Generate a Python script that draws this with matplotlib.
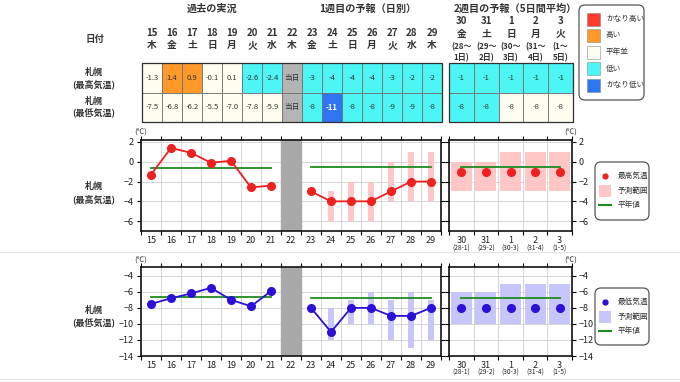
import matplotlib
matplotlib.use('Agg')
import matplotlib.pyplot as plt
import numpy as np
from matplotlib.patches import Rectangle, FancyBboxPatch

plt.rcParams['font.family'] = ['Noto Sans CJK JP', 'DejaVu Sans']

# ---------------- data ----------------
days1 = [15, 16, 17, 18, 19, 20, 21, 22, 23, 24, 25, 26, 27, 28, 29]
weekdays1 = ['木', '金', '土', '日', '月', '火', '水', '木', '金', '土', '日', '月', '火', '水', '木']
high_table = ['-1.3', '1.4', '0.9', '-0.1', '0.1', '-2.6', '-2.4', '当日', '-3', '-4', '-4', '-4', '-3', '-2', '-2']
high_class = ['N', 'H', 'H', 'N', 'N', 'L', 'L', 'T', 'L', 'L', 'L', 'L', 'L', 'L', 'L']
low_table = ['-7.5', '-6.8', '-6.2', '-5.5', '-7.0', '-7.8', '-5.9', '当日', '-8', '-11', '-8', '-8', '-9', '-9', '-8']
low_class = ['N', 'N', 'N', 'N', 'N', 'N', 'N', 'T', 'L', 'VL', 'L', 'L', 'L', 'L', 'L']

days2 = ['30', '31', '1', '2', '3']
weekdays2 = ['金', '土', '日', '月', '火']
periods2_a = ['(28〜', '(29〜', '(30〜', '(31〜', '(1〜']
periods2_b = ['1日)', '2日)', '3日)', '4日)', '5日)']
periods2_short = ['(28-1)', '(29-2)', '(30-3)', '(31-4)', '(1-5)']
w2_high_table = ['-1', '-1', '-1', '-1', '-1']
w2_high_class = ['L', 'L', 'L', 'L', 'L']
w2_low_table = ['-8', '-8', '-8', '-8', '-8']
w2_low_class = ['L', 'L', 'N', 'N', 'N']

past_days = [15, 16, 17, 18, 19, 20, 21]
past_high = [-1.3, 1.4, 0.9, -0.1, 0.1, -2.6, -2.4]
past_low = [-7.5, -6.8, -6.2, -5.5, -7.0, -7.8, -5.9]
normal_high_past = -0.6
normal_low_past = -6.7

fc_days = [23, 24, 25, 26, 27, 28, 29]
fc_high = [-3, -4, -4, -4, -3, -2, -2]
fc_high_lo = [np.nan, -6, -6, -6, -4, -4, -4]
fc_high_hi = [np.nan, -3, -2, -2, 0, 1, 1]
fc_low = [-8, -11, -8, -8, -9, -9, -8]
fc_low_lo = [np.nan, -12, -10, -10, -12, -13, -12]
fc_low_hi = [np.nan, -8, -7, -6, -7, -6, -7]
normal_high_fc = -0.5
normal_low_fc = -6.75

w2_high = [-1, -1, -1, -1, -1]
w2_high_lo = [-3, -3, -3, -3, -3]
w2_high_hi = [0, 0, 1, 1, 1]
w2_low = [-8, -8, -8, -8, -8]
w2_low_lo = [-10, -10, -10, -10, -10]
w2_low_hi = [-6, -6, -5, -5, -5]
normal_high_w2 = -0.5
normal_low_w2 = -6.8

class_colors = {'VH': '#ff3a2e', 'H': '#ff9a2a', 'N': '#fdfdf0', 'L': '#4df5f5', 'VL': '#2f74f0', 'T': '#b4b4b4'}
legend_classes = [('VH', 'かなり高い'), ('H', '高い'), ('N', '平年並'), ('L', '低い'), ('VL', 'かなり低い')]

RED = '#ee2020'
BLUE = '#2a10d8'
GREEN = '#1e8c1e'
PINK = '#ffc6c6'
LAV = '#c6c6fa'

# ---------------- figure ----------------
W, H = 680, 382
fig = plt.figure(figsize=(6.8, 3.82), dpi=100)


def px_axes(x0, y0, x1, y1, **kw):
    return fig.add_axes([x0 / W, 1 - y1 / H, (x1 - x0) / W, (y1 - y0) / H], **kw)


# ---------------- tables ----------------
def draw_table(ax, rows, classes):
    n = len(rows[0])
    ax.set_xlim(-0.5, n - 0.5)
    ax.set_ylim(2, 0)
    ax.axis('off')
    for r in range(2):
        for i in range(n):
            c = classes[r][i]
            ax.add_patch(Rectangle((i - 0.5, r), 1, 1, facecolor=class_colors[c],
                                   edgecolor='#707070', lw=0.6, clip_on=False))
            col = 'white' if c == 'VL' else '#333333'
            fw = 'bold' if c == 'VL' else 'normal'
            ax.text(i, r + 0.5, rows[r][i], ha='center', va='center', fontsize=5.5,
                    color=col, fontweight=fw)
    ax.add_patch(Rectangle((-0.5, 0), n, 2, fill=False, edgecolor='#303030', lw=0.9, clip_on=False))


ax_t1 = px_axes(142, 63, 442, 122)
draw_table(ax_t1, [high_table, low_table], [high_class, low_class])
for i, (d, w) in enumerate(zip(days1, weekdays1)):
    ax_t1.text(i, -1.03, str(d), ha='center', va='center', fontsize=7, fontweight='bold', color='#333333')
    ax_t1.text(i, -0.6, w, ha='center', va='center', fontsize=7, fontweight='bold', color='#333333')

ax_t2 = px_axes(449, 63, 573, 122)
draw_table(ax_t2, [w2_high_table, w2_low_table], [w2_high_class, w2_low_class])
for i in range(5):
    ax_t2.text(i, -1.42, days2[i], ha='center', va='center', fontsize=7, fontweight='bold', color='#333333')
    ax_t2.text(i, -1.0, weekdays2[i], ha='center', va='center', fontsize=7, fontweight='bold', color='#333333')
    ax_t2.text(i, -0.56, periods2_a[i], ha='center', va='center', fontsize=5.8, fontweight='bold', color='#333333')
    ax_t2.text(i, -0.18, periods2_b[i], ha='center', va='center', fontsize=5.8, fontweight='bold', color='#333333')


# ---------------- charts ----------------
def style_axes(ax, n_start, n_end, yticks, ylim, side, labels):
    ax.set_xlim(n_start - 0.5, n_end + 0.5)
    ax.set_ylim(*ylim)
    bounds = np.arange(n_start - 0.5, n_end + 1.0, 1.0)
    centers = np.arange(n_start, n_end + 1)
    ax.set_xticks(bounds)
    ax.set_xticklabels([])
    ax.set_xticks(centers, minor=True)
    ax.set_xticklabels(labels, minor=True)
    ax.tick_params(axis='x', which='major', direction='out', length=3, width=0.8, top=True, bottom=True)
    ax.tick_params(axis='x', which='minor', length=0, pad=3.5, labelsize=6.5, labelcolor='#222222')
    ax.set_yticks(yticks)
    ax.tick_params(axis='y', direction='out', length=3, width=0.8, left=True, right=True,
                   labelleft=(side == 'left'), labelright=(side == 'right'), labelsize=6.5,
                   labelcolor='#222222', pad=2)
    ax.grid(axis='x', which='major', color='#d0d0d0', lw=0.6)
    ax.grid(axis='y', which='major', color='#d0d0d0', lw=0.6)
    ax.set_axisbelow(True)
    for s in ax.spines.values():
        s.set_linewidth(1.2)
        s.set_color('#111111')


def chart_week1(ax, past, normal_past, fc, fc_lo, fc_hi, normal_fc, color, barcolor, yticks, ylim):
    style_axes(ax, 15, 29, yticks, ylim, 'left', [str(d) for d in days1])
    ax.axvspan(21.5, 22.5, color='#a8a8a8', zorder=1.5)
    lo = np.array(fc_lo, dtype=float)
    hi = np.array(fc_hi, dtype=float)
    ax.bar(fc_days, hi - lo, bottom=lo, width=0.27, color=barcolor, zorder=2)
    ax.plot([past_days[0], past_days[-1]], [normal_past, normal_past], color=GREEN, lw=1.3, zorder=3)
    ax.plot([fc_days[0], fc_days[-1]], [normal_fc, normal_fc], color=GREEN, lw=1.3, zorder=3)
    ax.plot(past_days, past, color=color, lw=1.3, marker='o', ms=5.5, zorder=4)
    ax.plot(fc_days, fc, color=color, lw=1.3, marker='o', ms=5.5, zorder=4)


def chart_week2(ax, vals, lo, hi, normal, color, barcolor, yticks, ylim):
    style_axes(ax, 0, 4, yticks, ylim, 'right', days2)
    x = np.arange(5)
    lo = np.array(lo, dtype=float)
    hi = np.array(hi, dtype=float)
    ax.bar(x, hi - lo, bottom=lo, width=0.86, color=barcolor, zorder=2)
    ax.plot([x[0], x[-1]], [normal, normal], color=GREEN, lw=1.3, zorder=3)
    ax.plot(x, vals, ls='none', color=color, marker='o', ms=5.5, zorder=4)
    for i in range(5):
        ax.text(i, -0.19, periods2_short[i], transform=ax.get_xaxis_transform(),
                ha='center', va='center', fontsize=4.8, color='#222222')


ax_h1 = px_axes(141, 140, 441, 231)
chart_week1(ax_h1, past_high, normal_high_past, fc_high, fc_high_lo, fc_high_hi, normal_high_fc,
            RED, PINK, [2, 0, -2, -4, -6], (-7, 2.2))
ax_h2 = px_axes(449, 140, 572, 231)
chart_week2(ax_h2, w2_high, w2_high_lo, w2_high_hi, normal_high_w2, RED, PINK, [2, 0, -2, -4, -6], (-7, 2.2))

ax_l1 = px_axes(141, 267, 441, 356)
chart_week1(ax_l1, past_low, normal_low_past, fc_low, fc_low_lo, fc_low_hi, normal_low_fc,
            BLUE, LAV, [-4, -6, -8, -10, -12, -14], (-14, -2.9))
ax_l2 = px_axes(449, 267, 572, 356)
chart_week2(ax_l2, w2_low, w2_low_lo, w2_low_hi, normal_low_w2, BLUE, LAV, [-4, -6, -8, -10, -12, -14], (-14, -2.9))

# ---------------- overlay texts & legends ----------------
ov = fig.add_axes([0, 0, 1, 1], zorder=10)
ov.set_xlim(0, W)
ov.set_ylim(H, 0)
ov.axis('off')

tc = '#333333'
ov.text(212, 9, '過去の実況', ha='center', va='center', fontsize=7.3, fontweight='bold', color=tc)
ov.text(368, 9, '1週目の予報（日別）', ha='center', va='center', fontsize=7.3, fontweight='bold', color=tc)
ov.text(454, 9, '2週目の予報（5日間平均）', ha='left', va='center', fontsize=7.3, fontweight='bold', color=tc)
ov.text(95, 39, '日付', ha='center', va='center', fontsize=6.8, fontweight='bold', color=tc)
for yc, lab in [(72, '札幌'), (84, '(最高気温)'), (101, '札幌'), (113, '(最低気温)'),
                (186, '札幌'), (199, '(最高気温)'), (310, '札幌'), (323, '(最低気温)')]:
    ov.text(94, yc, lab, ha='center', va='center', fontsize=6.5, fontweight='bold', color=tc)

for x, y in [(141, 133), (571, 133), (141, 261), (571, 261)]:
    ov.text(x, y, '(℃)', ha='center', va='center', fontsize=5.5, color=tc)

ov.axhline(252, color='#e4e4e4', lw=0.8)
ov.axhline(379, color='#e4e4e4', lw=0.8)


def rbox(x0, y0, x1, y1):
    ov.add_patch(FancyBboxPatch((x0, y0), x1 - x0, y1 - y0, boxstyle='round,pad=0,rounding_size=6',
                                facecolor='white', edgecolor='#555555', lw=0.9))


# class legend
rbox(579, 5, 644, 100)
for k, (c, lab) in enumerate(legend_classes):
    yc = 19 + k * 16.5
    ov.add_patch(Rectangle((587, yc - 6.5), 13, 13, facecolor=class_colors[c], edgecolor='#888888', lw=0.4))
    ov.text(606, yc, lab, ha='left', va='center', fontsize=5.5, color=tc)

# chart legends
for (y0, y1, color, barcolor, lab) in [(162, 220, RED, PINK, '最高気温'), (288, 345, BLUE, LAV, '最低気温')]:
    rbox(595, y0, 649, y1)
    ya = y0 + 14
    ov.plot([605], [ya], marker='o', ms=3.5, color=color, ls='none')
    ov.text(618, ya, lab, ha='left', va='center', fontsize=5.5, color=tc)
    ov.add_patch(Rectangle((599, ya + 15 - 6), 12, 12, facecolor=barcolor, edgecolor='none'))
    ov.text(618, ya + 15, '予測範囲', ha='left', va='center', fontsize=5.5, color=tc)
    ov.plot([599, 611], [ya + 29, ya + 29], color=GREEN, lw=1.5)
    ov.text(618, ya + 29, '平年値', ha='left', va='center', fontsize=5.5, color=tc)

fig.savefig('out.png', dpi=100)
